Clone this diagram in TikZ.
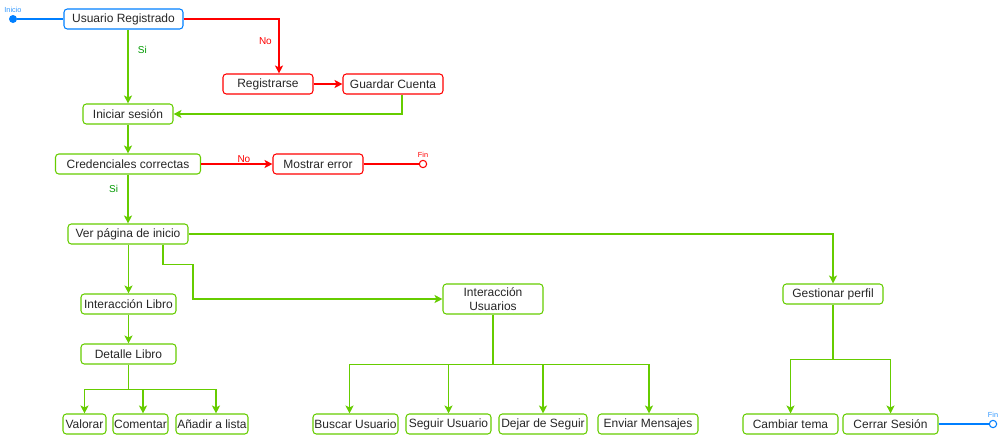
\documentclass[tikz,border=0pt]{standalone}
\usepackage{fontspec}
\setmainfont{Liberation Sans}
\usetikzlibrary{arrows.meta,calc}
\definecolor{grn}{RGB}{102,204,0}
\definecolor{sig}{RGB}{0,153,0}
\definecolor{blu}{RGB}{0,127,255}
\definecolor{lblu}{RGB}{51,153,255}
\definecolor{rd}{RGB}{255,0,0}
\tikzset{
  box/.style={draw, rounded corners=2.5pt, inner sep=0pt, minimum height=15pt,
    font=\fontsize{9}{11}\selectfont, align=center, line width=0.8pt, text=black!85},
  gbox/.style={box, draw=grn},
  rbox/.style={box, draw=rd},
  bbox/.style={box, draw=blu},
  bw/.style={minimum width=#1*0.75pt},
  bh/.style={minimum height=#1*0.75pt},
  ln/.style={line width=0.8pt},
  garr/.style={ln, draw=grn, -{Stealth[length=6pt,width=6pt,inset=1.5pt]}},
  rarr/.style={ln, draw=rd, -{Stealth[length=6pt,width=6pt,inset=1.5pt]}},
  glin/.style={ln, draw=grn},
  lbl/.style={font=\fontsize{7.5}{9}\selectfont, inner sep=1pt},
  tiny/.style={font=\fontsize{5.5}{6}\selectfont, inner sep=0pt},
  endc/.style={circle, inner sep=0pt, minimum size=5.5pt, line width=0.8pt, fill=white},
}
\begin{document}
\begin{tikzpicture}[x=0.75pt,y=-0.75pt]
\useasboundingbox (0,0) rectangle (1002,443);
% nodes
\node[bbox, bw=119] (usr) at (123.5,19) {Usuario Registrado};
\node[rbox, bw=90] (reg) at (268,84) {Registrarse};
\node[rbox, bw=100] (gc) at (393,84) {Guardar Cuenta};
\node[gbox, bw=90] (ses) at (128,114) {Iniciar sesión};
\node[gbox, bw=145] (cred) at (128,164) {Credenciales correctas};
\node[rbox, bw=90] (err) at (318,164) {Mostrar error};
\node[gbox, bw=120] (ver) at (128,234) {Ver página de inicio};
\node[gbox, bw=95] (il) at (128.5,304) {Interacción Libro};
\node[gbox, bw=95] (dl) at (128.5,354) {Detalle Libro};
\node[gbox, bw=43] (val) at (84.5,424) {Valorar};
\node[gbox, bw=55] (com) at (140.5,424) {Comentar};
\node[gbox, bw=72] (ana) at (212,424) {Añadir a lista};
\node[gbox, bw=100, bh=30] (iu) at (493,299) {Interacción\\Usuarios};
\node[gbox, bw=85] (bu) at (355.5,424) {Buscar Usuario};
\node[gbox, bw=85] (su) at (448.5,424) {Seguir Usuario};
\node[gbox, bw=88] (ds) at (543,424) {Dejar de Seguir};
\node[gbox, bw=100] (em) at (648,424) {Enviar Mensajes};
\node[gbox, bw=100] (gp) at (833,294) {Gestionar perfil};
\node[gbox, bw=95] (ct) at (790.5,424) {Cambiar tema};
\node[gbox, bw=95] (cs) at (890.5,424) {Cerrar Sesión};
% start / end
\node[circle, fill=blu, inner sep=0pt, minimum size=6pt] (ini) at (13,19) {};
\node[tiny, text=lblu] (inil) at (13,10) {Inicio};
\node[endc, draw=rd] (fin1) at (423,164) {};
\node[tiny, text=rd] (fin1l) at (423,155) {Fin};
\node[endc, draw=blu] (fin2) at (993,424) {};
\node[tiny, text=lblu] (fin2l) at (993,415) {Fin};
% connectors
\draw[ln, draw=blu] (ini) -- (usr.west);
\draw[rarr] (usr.east) -| node[lbl, text=rd, pos=0.7, left=4pt] {No} ($(reg.north)+(11,0)$);
\draw[rarr] (reg) -- (gc);
\draw[garr] ($(gc.south)+(9,0)$) |- (ses.east);
\draw[garr] (usr.south -| ses.north) -- node[lbl, text=sig, pos=0.28, right=6pt] {Si} (ses.north);
\draw[garr] (ses) -- (cred);
\draw[rarr] (cred) -- node[lbl, text=rd, pos=0.6, above=0pt] {No} (err);
\draw[ln, draw=rd] (err) -- (fin1);
\draw[garr] (cred) -- node[lbl, text=sig, pos=0.3, left=6pt] {Si} (ver);
\draw[garr] (ver.south -| il.north) -- (il.north);
\draw[garr] (il) -- (dl);
\coordinate (j1) at ($(dl.south)+(0,25)$);
\draw[glin] (dl.south) -- (j1);
\draw[garr] (j1) -| (val.north);
\draw[garr] (j1) -| ($(com.north)+(2.5,0)$);
\draw[garr] (j1) -| ($(ana.north)+(4,0)$);
\draw[garr] ($(ver.south)+(35,0)$) -- ++(0,20) -- ++(30,0) |- (iu.west);
\draw[garr] (ver.east) -| (gp.north);
\coordinate (j2) at ($(iu.south)+(0,50)$);
\draw[glin] (iu.south) -- (j2);
\draw[garr] (j2) -| ($(bu.north)+(-6,0)$);
\draw[garr] (j2) -| (su.north);
\draw[garr] (j2) -| (ds.north);
\draw[garr] (j2) -| ($(em.north)+(1,0)$);
\coordinate (j3) at ($(gp.south)+(0,55)$);
\draw[glin] (gp.south) -- (j3);
\draw[garr] (j3) -| (ct.north);
\draw[garr] (j3) -| (cs.north);
\draw[ln, draw=blu] (cs.east) -- (fin2);
\end{tikzpicture}
\end{document}
